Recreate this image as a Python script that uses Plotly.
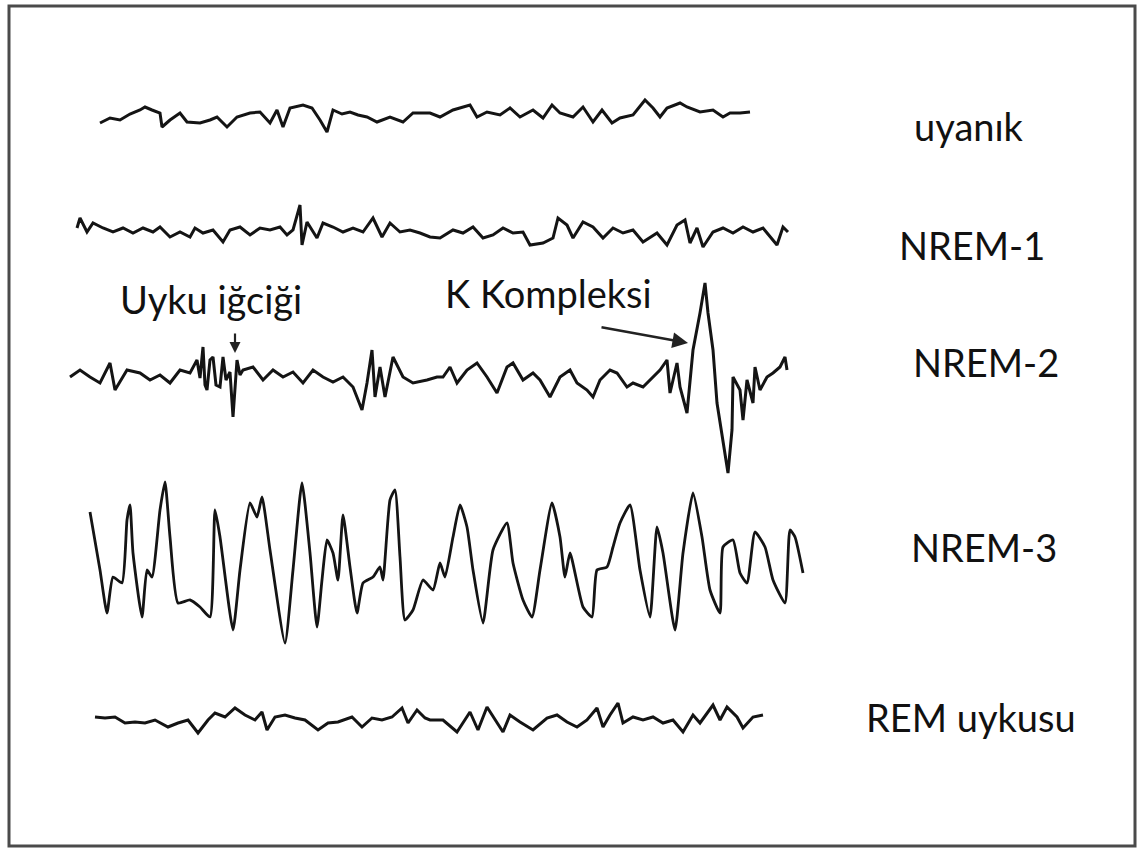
import plotly.graph_objects as go

# ---- Data (time axis in px units, signal in px units, downward) ----
uyanik_t = [100, 110, 120, 130, 140, 145, 152, 160, 162, 170, 180, 187, 200, 210, 217, 227, 237, 250, 260, 270,
            277, 283, 290, 303, 312, 320, 327, 333, 342, 350, 358, 367, 377, 390, 403, 413, 423, 430, 440, 453,
            470, 477, 487, 500, 510, 520, 533, 543, 552, 560, 573, 583, 593, 602, 612, 620, 633, 645, 653, 660,
            667, 680, 687, 700, 713, 723, 730, 740, 750]
uyanik_v = [123, 118, 120, 114, 110, 107, 110, 113, 127, 120, 113, 122, 123, 120, 117, 127, 117, 113, 112, 123,
            110, 127, 108, 105, 108, 120, 132, 110, 114, 112, 115, 117, 122, 117, 122, 113, 113, 113, 117, 110,
            105, 117, 112, 115, 108, 117, 110, 118, 105, 113, 117, 107, 122, 110, 123, 118, 115, 100, 108, 117,
            108, 103, 107, 112, 110, 117, 113, 113, 112]

nrem1_t = [77, 80, 87, 93, 103, 113, 123, 133, 143, 153, 160, 170, 180, 190, 195, 203, 213, 223, 230, 240,
           250, 260, 270, 280, 287, 293, 300, 302, 307, 317, 323, 333, 343, 353, 363, 373, 382, 390, 400, 410,
           420, 430, 440, 453, 463, 473, 483, 493, 503, 513, 523, 530, 543, 553, 558, 567, 573, 583, 593, 603,
           613, 623, 633, 643, 657, 667, 677, 685, 690, 697, 703, 713, 723, 733, 743, 753, 763, 777, 783, 788]
nrem1_v = [228, 218, 232, 223, 228, 232, 228, 233, 228, 232, 227, 237, 232, 237, 228, 233, 230, 242, 230, 227,
           235, 228, 230, 227, 235, 230, 205, 245, 222, 238, 223, 227, 232, 228, 232, 218, 237, 223, 232, 230,
           233, 237, 238, 230, 233, 227, 238, 235, 228, 233, 232, 245, 243, 238, 218, 225, 238, 222, 227, 238,
           228, 233, 230, 242, 233, 245, 225, 220, 243, 228, 247, 232, 228, 233, 227, 232, 228, 245, 227, 232]

nrem2_t = [70, 80, 90, 100, 110, 115, 127, 140, 150, 160, 170, 180, 190, 194, 197, 200, 203, 205, 207, 210,
           213, 216, 220, 223, 226, 230, 233, 237, 240, 243, 253, 263, 273, 283, 293, 303, 313, 323, 333, 343,
           353, 362, 367, 372, 375, 380, 385, 393, 403, 413, 427, 437, 443, 450, 457, 467, 477, 487, 497, 507,
           513, 523, 533, 540, 550, 560, 570, 577, 587, 593, 600, 610, 617, 627, 633, 643, 650, 660, 667, 670,
           677, 680, 687, 693, 700, 705, 708, 713, 717, 723, 728, 732, 733, 740, 743, 747, 753, 755, 760, 767,
           773, 780, 785, 787]
nrem2_v = [377, 370, 377, 383, 363, 390, 370, 373, 380, 375, 383, 370, 373, 365, 360, 378, 347, 385, 390, 360,
           357, 385, 387, 357, 380, 372, 417, 360, 375, 370, 367, 380, 370, 377, 372, 383, 370, 377, 382, 377,
           387, 410, 383, 350, 397, 367, 397, 357, 377, 383, 380, 377, 377, 367, 383, 370, 363, 377, 393, 367,
           363, 380, 373, 380, 397, 377, 370, 383, 390, 397, 380, 370, 373, 387, 383, 387, 380, 370, 360, 393,
           363, 387, 413, 350, 313, 283, 313, 350, 403, 443, 473, 430, 377, 390, 420, 380, 403, 367, 390, 377,
           373, 367, 357, 370]

nrem3_t = [90, 100, 107, 113, 122, 127, 130, 133, 142, 147, 152, 160, 165, 170, 178, 190, 200, 210, 215, 220,
           233, 240, 250, 257, 262, 270, 285, 293, 302, 310, 317, 322, 327, 333, 338, 343, 350, 357, 363, 373,
           380, 383, 390, 395, 400, 405, 413, 423, 433, 440, 445, 453, 460, 467, 473, 483, 493, 507, 513, 523,
           532, 540, 552, 560, 565, 570, 583, 592, 597, 607, 613, 620, 630, 640, 650, 657, 663, 675, 683, 693,
           702, 710, 720, 723, 733, 740, 747, 755, 765, 773, 785, 790, 795, 803]
nrem3_v = [512, 570, 613, 577, 583, 520, 505, 553, 617, 570, 577, 510, 482, 537, 603, 600, 607, 617, 510, 537,
           630, 570, 503, 517, 497, 550, 643, 570, 483, 553, 627, 580, 540, 553, 580, 515, 567, 613, 583, 577,
           567, 580, 500, 490, 557, 620, 610, 580, 590, 563, 577, 537, 505, 527, 570, 623, 550, 523, 563, 600,
           617, 570, 503, 537, 577, 553, 607, 617, 570, 567, 547, 523, 505, 570, 617, 527, 553, 630, 553, 493,
           537, 590, 613, 547, 540, 573, 583, 532, 547, 580, 603, 530, 537, 573]

rem_t = [95, 105, 115, 125, 135, 145, 155, 168, 178, 188, 198, 208, 215, 225, 235, 245, 255, 262, 267, 275,
         285, 295, 305, 318, 328, 338, 352, 362, 372, 382, 392, 402, 408, 417, 425, 430, 443, 457, 470, 478,
         487, 497, 503, 510, 520, 533, 547, 557, 567, 577, 587, 597, 603, 610, 618, 623, 633, 643, 653, 663,
         673, 683, 693, 700, 713, 720, 727, 737, 743, 753, 763]
rem_v = [717, 718, 717, 723, 722, 723, 720, 727, 723, 720, 733, 720, 713, 717, 708, 715, 720, 712, 730, 717,
         715, 718, 720, 730, 723, 722, 717, 727, 718, 720, 717, 708, 723, 710, 718, 720, 720, 732, 712, 730,
         707, 723, 732, 715, 722, 730, 718, 715, 722, 727, 720, 708, 727, 715, 703, 723, 717, 720, 717, 723,
         720, 732, 715, 723, 705, 720, 707, 717, 728, 717, 715]

stage_labels = ["uyanık", "NREM-1", "NREM-2", "NREM-3", "REM uykusu"]
feature_labels = ["Uyku iğciği", "K Kompleksi"]

# ---- Figure ----
W, H = 1139, 850
fig = go.Figure()
traces = [(uyanik_t, uyanik_v), (nrem1_t, nrem1_v), (nrem2_t, nrem2_v), (nrem3_t, nrem3_v), (rem_t, rem_v)]
styles = [dict(width=3.0, shape="linear"), dict(width=3.0, shape="linear"), dict(width=3.0, shape="linear"),
          dict(width=2.8, shape="spline", smoothing=0.5), dict(width=3.0, shape="linear")]
for (t, v), name, st in zip(traces, stage_labels, styles):
    fig.add_trace(go.Scatter(x=t, y=v, mode="lines", name=name,
                             line=dict(color="#141414", **st),
                             hoverinfo="skip", showlegend=False))

label_pos = [(912, 126), (897, 245), (911, 362), (909, 547), (864, 717)]
font = dict(family="Lato, 'Open Sans', sans-serif", size=38, color="#111111")
for txt, (lx, ly) in zip(stage_labels, label_pos):
    fig.add_annotation(x=lx, y=ly, text=txt, showarrow=False, xanchor="left", yanchor="middle",
                       font=font, xref="x", yref="y")
for txt, (lx, ly) in zip(feature_labels, [(118, 299), (443, 293)]):
    fig.add_annotation(x=lx, y=ly, text=txt, showarrow=False, xanchor="left", yanchor="middle",
                       font=font, xref="x", yref="y")

# arrows
fig.add_annotation(x=235, y=353, ax=235, ay=332, xref="x", yref="y", axref="x", ayref="y",
                   showarrow=True, arrowhead=2, arrowsize=1, arrowwidth=2.2, arrowcolor="#222", text="")
fig.add_annotation(x=688, y=343, ax=600, ay=327, xref="x", yref="y", axref="x", ayref="y",
                   showarrow=True, arrowhead=2, arrowsize=1.2, arrowwidth=2.6, arrowcolor="#222", text="")

# frame
fig.add_shape(type="rect", x0=9, y0=6, x1=1135, y1=846, xref="x", yref="y",
              line=dict(color="#4a4a4a", width=3))

fig.update_layout(width=W, height=H, margin=dict(l=0, r=0, t=0, b=0),
                  paper_bgcolor="white", plot_bgcolor="white",
                  xaxis=dict(range=[0, W], visible=False, fixedrange=True),
                  yaxis=dict(range=[H, 0], visible=False, fixedrange=True))
fig.write_html("out.html")
